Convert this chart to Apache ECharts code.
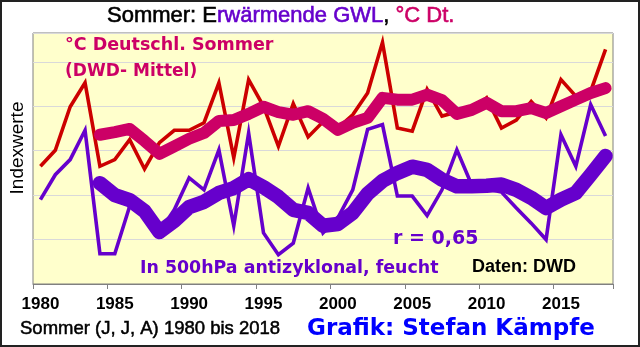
<!DOCTYPE html>
<html>
<head>
<meta charset="utf-8">
<script src="https://cdn.jsdelivr.net/npm/echarts@6/dist/echarts.min.js"></script>
<style>
html,body{margin:0;padding:0;background:#fff;}
#c{width:640px;height:347px;}
</style>
</head>
<body>
<div id="c"></div>
<script>
// Years 1980..2018
const years = [];
for (let y = 1980; y <= 2018; y++) years.push(String(y));

// °C Deutschland Sommer (Indexwerte, thin red)
const tempDt = [2.65,3.01,3.99,4.53,2.65,2.80,3.25,2.59,3.18,3.46,
                3.46,3.63,4.53,2.84,4.60,4.00,3.10,4.06,3.31,3.65,
                3.51,3.81,4.30,5.44,3.51,3.44,4.38,3.78,3.87,3.92,
                4.19,3.51,3.69,4.11,3.74,4.60,4.23,4.34,5.28];
// smoothed temperature (thick magenta)
const tempSmooth = [null,null,null,null,3.36,3.42,3.49,3.22,2.93,3.10,
                    3.27,3.40,3.67,3.69,3.83,3.99,3.87,3.81,3.89,3.72,
                    3.47,3.63,3.74,4.19,4.15,4.15,4.26,4.14,3.83,3.92,
                    4.08,3.89,3.89,3.96,3.85,4.00,4.15,4.30,4.41];
// In 500hPa antizyklonal, feucht (thin purple)
const antiFeucht = [1.90,2.46,2.80,3.46,0.68,0.68,1.75,1.62,1.17,1.67,
                    2.39,2.12,3.02,1.31,3.40,1.15,0.66,0.92,2.16,1.15,
                    1.49,2.12,3.48,3.59,1.98,1.98,1.54,2.12,3.02,2.23,
                    2.14,2.07,1.71,1.37,1.00,3.36,2.65,4.04,3.33];
// smoothed (thick purple)
const antiSmooth = [null,null,null,null,2.27,2.00,1.89,1.64,1.17,1.42,
                    1.73,1.85,2.05,2.16,2.36,2.18,1.96,1.67,1.60,1.31,
                    1.35,1.60,2.03,2.32,2.50,2.64,2.57,2.35,2.20,2.20,
                    2.21,2.24,2.12,1.94,1.71,1.90,2.05,2.46,2.88];

const chart = echarts.init(document.getElementById('c'), null, {renderer:'canvas'});
const AR = '"Liberation Sans", Arial, sans-serif';
const DV = '"DejaVu Sans", Verdana, sans-serif';

chart.setOption({
  animation: false,
  backgroundColor: '#ffffff',
  grid: {left: 33, top: 33, width: 580, height: 251, show: true,
         backgroundColor: '#FFFFCC', borderColor: '#808080', borderWidth: 1},
  xAxis: {
    type: 'category', data: years, boundaryGap: true,
    axisLine: {show: true, lineStyle: {color: '#808080', width: 1}},
    axisTick: {show: true, interval: 4, length: 5, inside: false, lineStyle: {color: '#808080'}},
    axisLabel: {interval: 4, margin: 12, color: '#000', fontFamily: AR, fontWeight: 'bold', fontSize: 17},
    splitLine: {show: false}
  },
  yAxis: {
    type: 'value', min: 0, max: 5.65, interval: 1,
    axisLine: {show: false}, axisTick: {show: false}, axisLabel: {show: false},
    splitLine: {show: true, lineStyle: {color: '#D9D9D9', width: 1}}
  },
  series: [
    {type: 'line', data: tempDt, symbol: 'none', z: 2,
     lineStyle: {color: '#CC0000', width: 3.6, join: 'miter', cap: 'butt'}},
    {type: 'line', data: antiFeucht, symbol: 'none', z: 3,
     lineStyle: {color: '#6600CC', width: 3.6, join: 'miter', cap: 'butt'}},
    {type: 'line', data: tempSmooth, symbol: 'none', z: 4,
     lineStyle: {color: '#CC0066', width: 12, join: 'round', cap: 'round'}},
    {type: 'line', data: antiSmooth, symbol: 'none', z: 5,
     lineStyle: {color: '#6600CC', width: 14.5, join: 'round', cap: 'round'}}
  ],
  graphic: [
    {type: 'rect', shape: {x: 1, y: 1, width: 638, height: 345}, z: 100,
     style: {fill: 'none', stroke: '#222', lineWidth: 2}},
    {type: 'text', x: 107, y: 16, z: 100, style: {
      text: '{a|Sommer: E}{b|rwärmende GWL}{a|, }{c|°C Dt.}',
      textVerticalAlign: 'middle', textAlign: 'left',
      rich: {
        a: {fill: '#000000', font: '22px ' + AR, stroke: '#000000', lineWidth: 0.6},
        b: {fill: '#6600CC', font: '22px ' + AR, stroke: '#6600CC', lineWidth: 0.6},
        c: {fill: '#CC0066', font: '22px ' + AR, stroke: '#CC0066', lineWidth: 0.6}
      }}},
    {type: 'text', x: 65, y: 45, z: 100, style: {text: '°C Deutschl. Sommer', fill: '#CC0066',
      font: 'bold 17.5px ' + DV, textVerticalAlign: 'middle'}},
    {type: 'text', x: 65, y: 71.5, z: 100, style: {text: '(DWD- Mittel)', fill: '#CC0066',
      font: 'bold 17px ' + DV, textVerticalAlign: 'middle'}},
    {type: 'text', x: 393, y: 239.5, z: 100, style: {text: 'r = 0,65', fill: '#6600CC',
      font: 'bold 19px ' + DV, textVerticalAlign: 'middle'}},
    {type: 'text', x: 140, y: 268.5, z: 100, style: {text: 'In 500hPa antizyklonal, feucht', fill: '#6600CC',
      font: 'bold 17.4px ' + DV, textVerticalAlign: 'middle'}},
    {type: 'text', x: 472, y: 267, z: 100, style: {text: 'Daten: DWD', fill: '#000000',
      font: 'bold 18px ' + AR, textVerticalAlign: 'middle'}},
    {type: 'text', x: 18, y: 148, rotation: Math.PI / 2, z: 100, style: {text: 'Indexwerte', fill: '#000000',
      font: '19px ' + AR, textVerticalAlign: 'middle', textAlign: 'center'}},
    {type: 'text', x: 20, y: 328.5, z: 100, style: {text: 'Sommer (J, J, A) 1980 bis 2018', fill: '#000000',
      stroke: '#000000', lineWidth: 0.5,
      font: '18.5px ' + AR, textVerticalAlign: 'middle'}},
    {type: 'text', x: 307, y: 329, z: 100, style: {text: 'Grafik: Stefan Kämpfe', fill: '#0000FF',
      font: 'bold 23px ' + DV, textVerticalAlign: 'middle'}}
  ]
});
</script>
</body>
</html>
